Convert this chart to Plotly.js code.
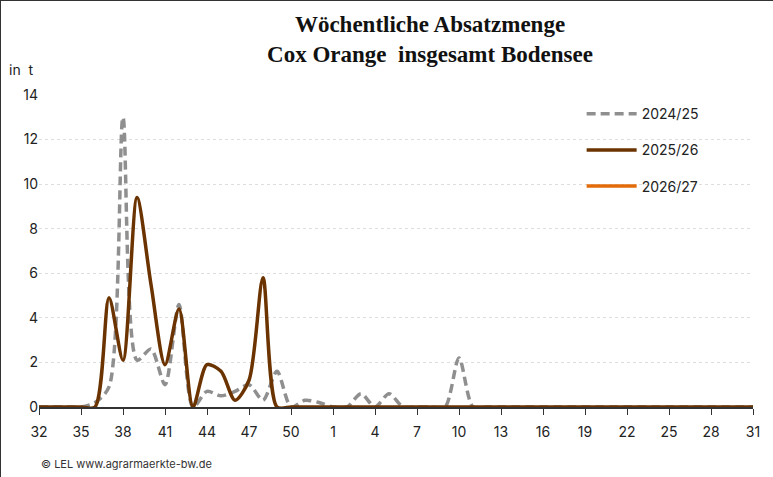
<!DOCTYPE html>
<html>
<head>
<meta charset="utf-8">
<script src="https://cdn.plot.ly/plotly-3.0.1.min.js"></script>
<style>
  html, body { margin: 0; padding: 0; background: #fff; }
  #plot { width: 773px; height: 477px; box-sizing: border-box; border: 1px solid #333; }
</style>
</head>
<body>
<div id="plot"></div>
<script>
'use strict';

// calendar weeks 32..52, then 1..31
const weeks = [32, 33, 34, 35, 36, 37, 38, 39, 40, 41, 42, 43, 44, 45, 46, 47, 48, 49, 50, 51, 52,
  1, 2, 3, 4, 5, 6, 7, 8, 9, 10, 11, 12, 13, 14, 15, 16, 17, 18, 19, 20, 21, 22, 23, 24, 25, 26, 27, 28, 29, 30, 31];

const season2425 = [0, 0, 0, 0, 0.2, 0.9, 13, 2.1, 2.6, 1.0, 4.6, 0, 0.7, 0.5, 0.7, 1.0, 0.3, 1.6, 0, 0.3, 0.2,
  0, 0, 0.6, 0, 0.6, 0, 0, 0, 0, 2.2, 0, 0, 0, 0, 0, 0, 0, 0, 0, 0, 0, 0, 0, 0, 0, 0, 0, 0, 0, 0, 0];

const season2526 = [0, 0, 0, 0, 0, 4.9, 2.1, 9.4, 5.5, 1.9, 4.4, 0, 1.9, 1.6, 0.3, 1.2, 5.8, 0, 0, 0, 0,
  0, 0, 0, 0, 0, 0, 0, 0, 0, 0, 0, 0, 0, 0, 0, 0, 0, 0, 0, 0, 0, 0, 0, 0, 0, 0, 0, 0, 0, 0, 0];

const season2627 = [];

const idx = weeks.map((w, i) => i);
const tickIdx = idx.filter(i => i % 3 === 0);
const tickLabels = tickIdx.map(i => String(weeks[i]));

const traces = [
  {
    name: '2024/25', legendgroup: 'a', x: idx, y: season2425, type: 'scatter', mode: 'lines',
    line: {color: '#8f8f8f', width: 3.5, dash: '9px,5px', shape: 'spline', smoothing: 0.8}
  },
  {
    name: '2025/26', legendgroup: 'b', x: idx, y: season2526, type: 'scatter', mode: 'lines',
    line: {color: '#6b3300', width: 3.5, shape: 'spline', smoothing: 0.8}
  },
  {
    name: '2026/27', legendgroup: 'c', x: season2627.length ? idx : [0], y: season2627.length ? season2627 : [null],
    type: 'scatter', mode: 'lines',
    line: {color: '#e36c0a', width: 3.5}
  }
];

const layout = {
  width: 773, height: 477,
  paper_bgcolor: '#fff', plot_bgcolor: '#fff',
  margin: {l: 38, r: 21, t: 94, b: 71},
  font: {family: 'Inter, Roboto, sans-serif', size: 14, color: '#222'},
  title: {
    text: '<b>Wöchentliche Absatzmenge<br>Cox Orange  insgesamt Bodensee</b>',
    font: {family: 'Liberation Serif, serif', size: 23, color: '#111'},
    x: 0.555, xanchor: 'center', y: 0.935, yanchor: 'top'
  },
  showlegend: true,
  legend: {
    x: 0.76, y: 0.99, xanchor: 'left', yanchor: 'top',
    font: {size: 14}, tracegroupgap: 15, itemwidth: 50,
    bgcolor: 'rgba(0,0,0,0)'
  },
  xaxis: {
    range: [0, 51], tickvals: tickIdx, ticktext: tickLabels,
    showgrid: false, zeroline: false, showline: true, linecolor: '#333', linewidth: 2,
    ticks: 'outside', ticklen: 6, tickcolor: '#333', tickfont: {size: 14},
    ticklabelstandoff: 5
  },
  yaxis: {
    range: [0, 14], dtick: 2, showgrid: true, gridcolor: '#ddd', griddash: 'dot',
    zeroline: false, showline: false, ticks: '', tickfont: {size: 14}
  },
  annotations: [
    {text: 'in  t', xref: 'paper', yref: 'paper', x: -0.045, y: 1.115, xanchor: 'left',
     showarrow: false, font: {size: 14}},
    {text: '© LEL www.agrarmaerkte-bw.de', xref: 'paper', yref: 'paper', x: 0.0, y: -0.21,
     xanchor: 'left', showarrow: false, font: {size: 11, color: '#333'}}
  ]
};

Plotly.newPlot('plot', traces, layout, {displayModeBar: false, responsive: false});
</script>
</body>
</html>
